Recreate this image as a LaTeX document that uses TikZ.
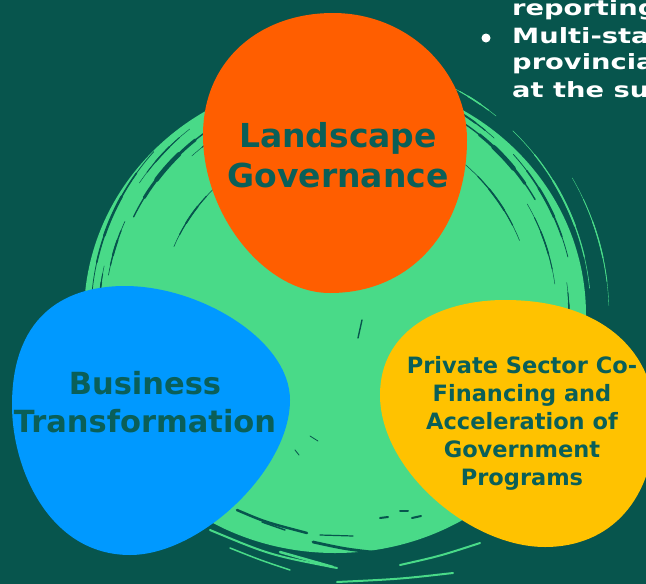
\documentclass[tikz,border=0pt]{standalone}
\usepackage{fontspec}
\setmainfont{DejaVu Sans}
\definecolor{bgteal}{HTML}{07554D}
\definecolor{ringgreen}{HTML}{49DA88}
\definecolor{bloborange}{HTML}{FF5E00}
\definecolor{blobblue}{HTML}{0099FF}
\definecolor{blobyellow}{HTML}{FFC200}
\definecolor{labelteal}{HTML}{0A5F58}
% tapered brush stroke along a circle round (c): colour, start angle, end angle, radius, width
\newcommand\brushstroke[5]{%
  \pgfmathsetmacro\bsA{#2+(#3-#2)*0.18}\pgfmathsetmacro\bsB{#3-(#3-#2)*0.18}%
  \pgfmathsetmacro\bsC{#2+(#3-#2)*0.36}\pgfmathsetmacro\bsD{#3-(#3-#2)*0.36}%
  \draw[draw=#1,line cap=round,line width=#5*0.3pt] (c) ++(#2:#4) arc[start angle=#2,end angle=#3,radius=#4];
  \draw[draw=#1,line cap=round,line width=#5*0.65pt] (c) ++(\bsA:#4) arc[start angle=\bsA,end angle=\bsB,radius=#4];
  \draw[draw=#1,line cap=round,line width=#5*1pt] (c) ++(\bsC:#4) arc[start angle=\bsC,end angle=\bsD,radius=#4];}
\begin{document}
\begin{tikzpicture}[x=1pt,y=-1pt,
  dstreak/.style={draw=bgteal, line cap=round, line width=#1},
  dstreak/.default=1.5pt,
  gstreak/.style={draw=ringgreen, line cap=round, line width=#1},
  gstreak/.default=1.5pt,
  blobtext/.style={text=labelteal, align=center, inner sep=0pt, font=\bfseries},
  whitetext/.style={text=white, anchor=base west, inner sep=0pt, font=\bfseries\fontsize{21}{27}\selectfont}]
\useasboundingbox (0,0) rectangle (646,584);
\clip (0,0) rectangle (646,584);
\fill[bgteal] (0,0) rectangle (646,584);
% green ring
\coordinate (c) at (335,315);
\fill[ringgreen] (c) ellipse[x radius=251, y radius=238];
% --- top-left brush strokes
\brushstroke{bgteal}{206}{237}{224}{4.5}
\brushstroke{bgteal}{186}{222}{244}{2.5}
\brushstroke{bgteal}{190}{204}{230}{2}
\brushstroke{bgteal}{203}{227}{175}{1.8}
\brushstroke{bgteal}{214}{232}{236}{1.5}
\brushstroke{bgteal}{228}{248}{214}{1.5}
\brushstroke{bgteal}{181}{192}{236}{1.5}
% --- top-right brush strokes
\brushstroke{bgteal}{304}{330}{231}{4.5}
\brushstroke{bgteal}{311}{338}{199}{1.8}
\brushstroke{bgteal}{318}{346}{240}{2.5}
\brushstroke{bgteal}{296}{312}{238}{1.8}
\brushstroke{bgteal}{330}{352}{222}{1.5}
\brushstroke{ringgreen}{314}{354}{256}{1.8}
\brushstroke{ringgreen}{330}{358}{274}{1.2}
\brushstroke{ringgreen}{297}{309}{256}{1.5}
% --- right
\brushstroke{bgteal}{352}{366}{234}{1.5}
% --- bottom dark streaks inside the ring
\draw[dstreak=2.5pt] (237,510) .. controls (265,522) .. (307,533);
\draw[dstreak=2.8pt] (313,542) .. controls (345,549) .. (380,553);
\draw[dstreak=1.2pt] (320,535) -- (353,536);
\draw[dstreak=2pt] (380,518) -- (388,517);
\draw[dstreak=2pt] (400,511) -- (408,511);
\draw[dstreak=2pt] (412,518) -- (421,516);
\draw[dstreak=2.2pt] (430,538) -- (460,529);
\draw[dstreak=1.5pt] (262,522) -- (285,530);
\draw[dstreak=4pt] (225,535) .. controls (280,556) .. (335,560);
\draw[dstreak=4pt] (335,560) .. controls (390,562) .. (450,546);
% --- bottom green streaks outside the ring
\draw[gstreak=2pt] (210,530) .. controls (270,555) .. (337,568);
\draw[gstreak=2.5pt] (280,552) -- (333,567);
\draw[gstreak=2pt] (337,582) .. controls (400,579) .. (453,573);
\draw[gstreak=2pt] (400,565) .. controls (440,556) .. (480,543);
\draw[gstreak=1.5pt] (230,548) .. controls (260,560) .. (290,570);
% --- small marks in the middle
\draw[dstreak=1.4pt] (358,338) -- (362,320);
\draw[dstreak=0.8pt] (310,436) -- (318,441);
\draw[dstreak=0.8pt] (295,450) -- (299,455);
% orange blob (egg)
\fill[bloborange] (333,13) .. controls (407,13) and (467,70) .. (467,140)
  .. controls (467,225) and (415,293) .. (330,293)
  .. controls (265,293) and (203,215) .. (203,135)
  .. controls (203,60) and (260,13) .. (333,13) -- cycle;
% blue blob
\fill[blobblue] (125,286) .. controls (200,286) and (290,340) .. (290,400)
  .. controls (290,470) and (200,555) .. (130,555)
  .. controls (50,555) and (12,470) .. (12,405)
  .. controls (12,320) and (60,286) .. (125,286) -- cycle;
% yellow blob
\fill[blobyellow] (505,300) .. controls (600,300) and (655,350) .. (655,420)
  .. controls (655,500) and (610,547) .. (545,547)
  .. controls (470,547) and (380,470) .. (380,395)
  .. controls (380,330) and (440,300) .. (505,300) -- cycle;
% labels
\node[blobtext, font=\bfseries\fontsize{33}{40}\selectfont] (lg) at (338,155) {Landscape\\Governance};
\node[blobtext, font=\bfseries\fontsize{30.5}{38}\selectfont] (bt) at (145,402) {Business\\Transformation};
\node[blobtext, font=\bfseries\fontsize{22.5}{28}\selectfont] (ps) at (522,423) {Private Sector Co-\\Financing and\\Acceleration of\\Government\\Programs};
% top-right white text (cut off by the picture's edges, as in the source)
\node[whitetext] (w1) at (512,15) {\scalebox{1.3}[1]{reporting}};
\node[whitetext] (w2) at (512,43) {\scalebox{1.3}[1]{Multi-sta}};
\node[whitetext] (w3) at (512,69) {\scalebox{1.3}[1]{provincia}};
\node[whitetext] (w4) at (512,97) {\scalebox{1.3}[1]{at the sup}};
\fill[white] (486,38) circle[radius=4.5];
\end{tikzpicture}
\end{document}
